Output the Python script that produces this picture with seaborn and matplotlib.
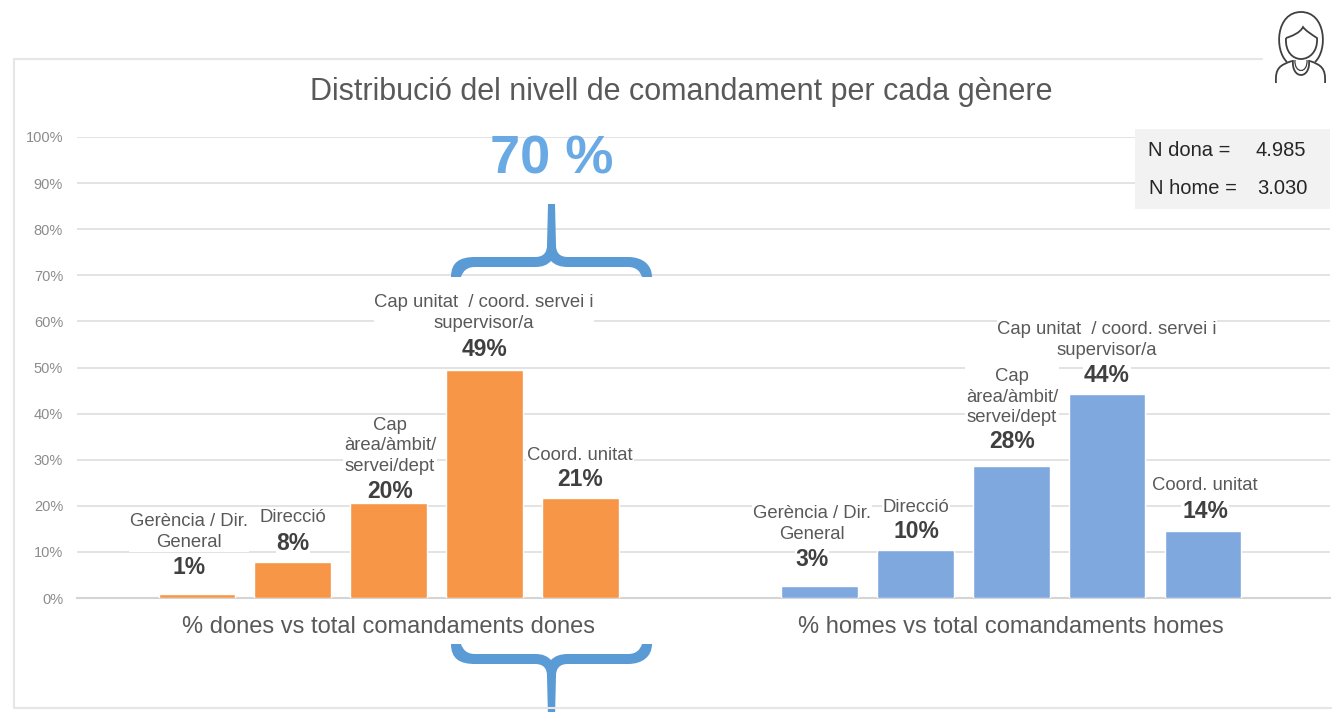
import numpy as np
import pandas as pd
import matplotlib.pyplot as plt
import seaborn as sns
from matplotlib.path import Path
from matplotlib.patches import PathPatch, Rectangle

# values
levels = ['Gerència / Dir.\nGeneral', 'Direcció', 'Cap\nàrea/àmbit/\nservei/dept',
          'Cap unitat  / coord. servei i\nsupervisor/a', 'Coord. unitat']
dones = [0.9, 7.9, 20.7, 49.5, 21.7]
homes = [2.6, 10.4, 28.7, 44.3, 14.6]
dones_pct = ['1%', '8%', '20%', '49%', '21%']
homes_pct = ['3%', '10%', '28%', '44%', '14%']
group_labels = ['% dones vs total comandaments dones', '% homes vs total comandaments homes']
y_ticks = list(range(0, 101, 10))

GREY = '#595959'
ORANGE = '#f79646'
BLUE = '#7fa8de'
BRACE = '#5b9bd5'

sns.set_theme(style='whitegrid')
plt.rcParams['font.family'] = ['Liberation Sans', 'DejaVu Sans']

W, H = 1332, 712
fig = plt.figure(figsize=(W / 100, H / 100), dpi=100, facecolor='white')

# main axes, 0% sits at y=598 and 100% at y=137
ax = fig.add_axes([77 / W, 1 - 598 / H, (1330 - 77) / W, (598 - 137) / H])

df_d = pd.DataFrame({'pos': np.arange(5.0), 'val': dones})
df_h = pd.DataFrame({'pos': np.arange(5.0) + 6.5, 'val': homes})
sns.barplot(data=df_d, x='pos', y='val', native_scale=True, color=ORANGE, saturation=1,
            width=0.8, ax=ax, zorder=3)
sns.barplot(data=df_h, x='pos', y='val', native_scale=True, color=BLUE, saturation=1,
            width=0.8, ax=ax, zorder=3)

slot = 95.8
ax.set_xlim(-(197 - 77) / slot, (1330 - 197) / slot)
ax.set_ylim(0, 100)
ax.set_yticks(y_ticks)
ax.set_yticklabels([f'{t}%' for t in y_ticks], fontsize=10.5, color='#8c8c8c')
ax.set_xticks([2, 8.5])
ax.set_xticklabels(group_labels, fontsize=17, color=GREY)
ax.set_xlabel('')
ax.set_ylabel('')
ax.tick_params(axis='x', length=0, pad=13)
ax.tick_params(axis='y', length=0, pad=10)
ax.grid(axis='x', visible=False)
ax.grid(axis='y', color='#e0e0e0', lw=1.3)
ax.set_axisbelow(True)
for side in ['top', 'left', 'right']:
    ax.spines[side].set_visible(False)
ax.spines['bottom'].set_color('#d4d4d4')
ax.spines['bottom'].set_linewidth(1.5)
ax.patch.set_alpha(0)

# overlay in picture pixels for the slide furniture
ov = fig.add_axes([0, 0, 1, 1], zorder=5)
ov.set_xlim(0, W)
ov.set_ylim(H, 0)
ov.axis('off')

frame = '#e6e6e6'
ov.plot([1262, 14, 14, 1332], [59, 59, 708, 708], color=frame, lw=1.5)

ov.text(681, 92, 'Distribució del nivell de comandament per cada gènere',
        ha='center', va='center', fontsize=22, color=GREY)

# labels over the bars
lab_x = [189, 293, 390, 484, 580, 812, 916, 1012, 1107, 1205]
pct_y = [568, 543, 491, 349, 480, 559, 531, 442, 375, 511]
name_y = [532, 518, 446, 313, 455, 524, 507, 397, 340, 486]
bbox = dict(fc='white', ec='none', pad=0.5)
for x, py, ny, n, p in zip(lab_x, pct_y, name_y, levels + levels, dones_pct + homes_pct):
    ov.text(x, ny, n, ha='center', va='center', fontsize=13.3, color=GREY, linespacing=1.3, bbox=bbox)
    ov.text(x, py, p, ha='center', va='center', fontsize=16.5, color='#404040', fontweight='bold', bbox=bbox)

# N box
ov.add_patch(Rectangle((1135, 129), 195, 80, fc='#f2f2f2', ec='none'))
ov.text(1148, 151, 'N dona =', va='center', fontsize=14.5, color='#262626')
ov.text(1255, 151, '4.985', va='center', fontsize=14.5, color='#262626')
ov.text(1149, 189, 'N home =', va='center', fontsize=14.5, color='#262626')
ov.text(1257, 189, '3.030', va='center', fontsize=14.5, color='#262626')

# 70 % and braces
ov.text(552, 160, '70 %', ha='center', va='center', fontsize=39, fontweight='bold', color='#6aaae4')

M, L, C = Path.MOVETO, Path.LINETO, Path.CURVE4
brace_pts = [(451, 277), (451, 262), (460, 257), (475, 257), (535, 257), (544, 257), (547, 252), (547, 245),
             (548, 204), (555, 204), (556, 245), (556, 252), (559, 257), (568, 257), (628, 257),
             (643, 257), (652, 265), (652, 277), (642, 277), (640, 271), (636, 267), (628, 267),
             (568, 267), (560, 267), (555, 265), (551, 261), (547, 265), (543, 267), (535, 267),
             (475, 267), (467, 267), (463, 271), (461, 277), (451, 277)]
brace_codes = [M, C, C, C, L, C, C, C, L, L, L, C, C, C, L, C, C, C, L, C, C, C, L, C, C, C, C, C, C, L, C, C, C, L]
ov.add_patch(PathPatch(Path(brace_pts, brace_codes), fc=BRACE, ec='none'))
flip_pts = [(x, 921 - y) for x, y in brace_pts]
ov.add_patch(PathPatch(Path(flip_pts, brace_codes), fc=BRACE, ec='none'))

# woman icon
ic = '#404040'
lw = 1.3
ov.add_patch(PathPatch(Path([(1287, 62), (1274, 50), (1276, 12), (1301, 12), (1326, 12), (1328, 50), (1315, 62)],
                            [M, C, C, C, C, C, C]), fc='none', ec=ic, lw=lw))
ov.add_patch(PathPatch(Path([(1286, 38), (1285, 52), (1293, 59), (1301, 59), (1309, 59), (1318, 52), (1317, 38),
                             (1311, 34), (1306, 31), (1303, 27), (1300, 33), (1292, 36), (1286, 38)],
                            [M, C, C, C, C, C, C, C, C, C, C, C, C]), fc='none', ec=ic, lw=lw))
ov.add_patch(PathPatch(Path([(1293, 60), (1291, 80), (1311, 80), (1309, 60)], [M, C, C, C]),
                       fc='none', ec=ic, lw=lw))
ov.add_patch(PathPatch(Path([(1295, 60), (1294, 74), (1308, 74), (1307, 60)], [M, C, C, C]),
                       fc='none', ec=ic, lw=0.9))
ov.add_patch(PathPatch(Path([(1276, 83), (1275, 68), (1280, 65), (1292, 61)], [M, C, C, C]),
                       fc='none', ec=ic, lw=lw))
ov.add_patch(PathPatch(Path([(1325, 83), (1326, 68), (1321, 65), (1310, 61)], [M, C, C, C]),
                       fc='none', ec=ic, lw=lw))

fig.savefig('out.png', dpi=100)
